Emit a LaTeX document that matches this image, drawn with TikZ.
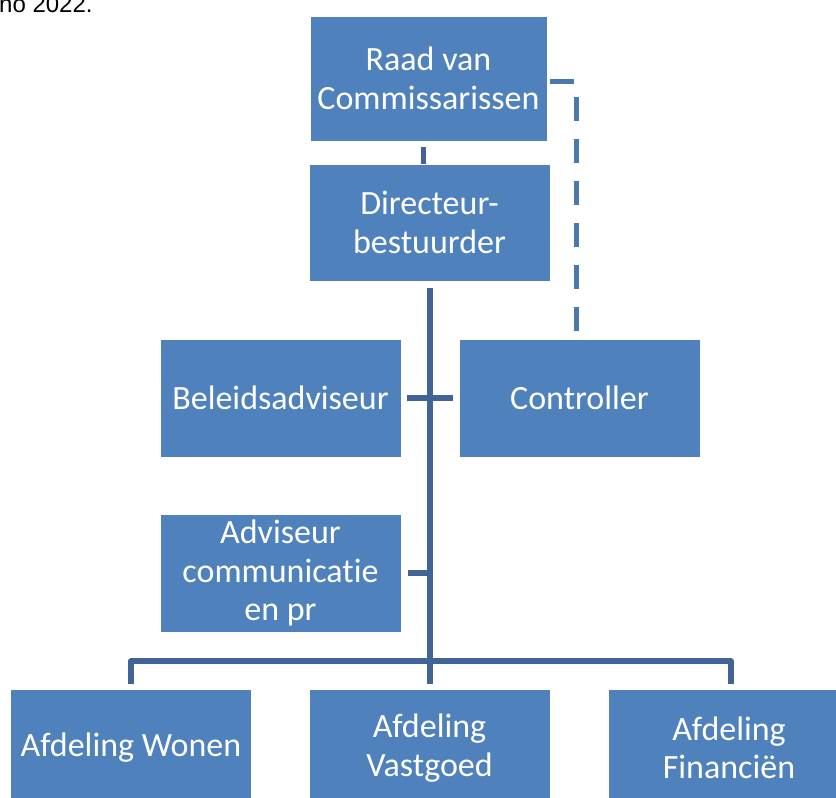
\documentclass[tikz,border=0pt]{standalone}
\usepackage{fontspec}
\setmainfont{Carlito}[Ligatures=CommonOff]
\newfontfamily\arialfont{Liberation Sans}
\definecolor{boxblue}{RGB}{79,129,189}
\definecolor{linkblue}{RGB}{64,100,150}
\definecolor{dashblue}{RGB}{74,120,176}
\begin{document}
\begin{tikzpicture}[x=1pt,y=-1pt,
  orgbox/.style={rectangle, fill=boxblue, draw=white, line width=0.8pt,
    text=white, align=center, inner sep=0pt,
    minimum width=241pt, minimum height=118pt,
    font=\fontsize{34}{38.5}\selectfont},
  link/.style={draw=linkblue, line width=5.5pt, line join=round},
  dashlink/.style={draw=dashblue, line width=5pt, dash pattern=on 24pt off 18pt}]
\useasboundingbox (0,0) rectangle (836,798);
\clip (0,0) rectangle (836,798);
\fill[white] (0,0) rectangle (836,798);
\node[anchor=base west, inner sep=0pt, font=\arialfont\fontsize{24}{28}\selectfont] (note) at (-1,12) {no 2022.};
\node[orgbox, minimum width=237pt, minimum height=125pt] (raad) at (428.5,78.5) {Raad van\\Commissarissen};
\node[orgbox, minimum height=117pt] (dir) at (429.5,222.5) {Directeur-\\bestuurder};
\node[orgbox] (bel) at (280.5,398) {Beleidsadviseur};
\node[orgbox] (con) at (579.5,398) {Controller};
\node[orgbox] (adv) at (280.5,573) {Adviseur\\communicatie\\en pr};
\node[orgbox] (won) at (131,748) {Afdeling Wonen};
\node[orgbox] (vast) at (429.5,748) {Afdeling\\Vastgoed};
\node[orgbox] (fin) at (729,748) {Afdeling\\Financiën};
% connectors
\coordinate (rd) at (423,141);
\coordinate (dr) at (423,164);
\draw[link, line width=5pt, shorten <=6pt] (rd) -- (dr);
\coordinate (trtop) at (430,281);
\coordinate (trbot) at (430,689);
\draw[link, shorten <=7pt, shorten >=5pt] (trtop) -- (trbot);
\draw[link, shorten <=6pt, shorten >=6pt] (bel.east) -- (con.west);
\coordinate (advj) at (430,573);
\draw[link, shorten <=7pt] (adv.east) -- (advj);
\coordinate (bw) at (131,689);
\coordinate (bf) at (731,689);
\coordinate (bus) at (430,661);
\draw[link, shorten <=5pt, shorten >=5pt] (bw) |- (bus) -| (bf);
\coordinate (rdash) at (550,81);
\coordinate (rcorner) at (576,81);
\coordinate (ctop) at (576,339);
\draw[dashlink] (rdash) -- (rcorner) -- (ctop);
\end{tikzpicture}
\end{document}
